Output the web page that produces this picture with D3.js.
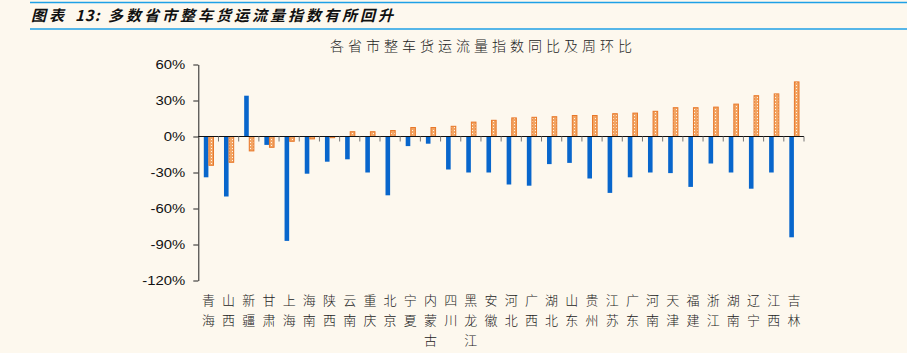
<!DOCTYPE html>
<html>
<head>
<meta charset="utf-8">
<script src="https://cdn.jsdelivr.net/npm/d3@7"></script>
<style>
  body { margin: 0; background: #fdf8ee; }
  svg { display: block; }
</style>
</head>
<body>
<svg width="907" height="353"></svg>
<script>
const provinces = ["青海","山西","新疆","甘肃","上海","海南","陕西","云南","重庆","北京",
  "宁夏","内蒙古","四川","黑龙江","安徽","河北","广西","湖北","山东","贵州",
  "江苏","广东","河南","天津","福建","浙江","湖南","辽宁","江西","吉林"];
// 同比 (blue)
const yoy = [-34, -50, 34, -7, -87, -31, -21, -19, -30, -49,
  -8, -6, -27.5, -30, -30, -40, -41, -23, -22, -35,
  -47, -34, -30, -30.5, -42, -22.5, -30, -43.5, -30, -84];
// 周环比 (orange)
const wow = [-24, -21.5, -12, -9, -4, -2, -1, 4, 4, 5,
  7.5, 7.5, 8.5, 12, 13.5, 15.5, 16, 16.5, 17.5, 17.5,
  19, 19.5, 21, 24, 24, 24.5, 27, 34, 35.5, 45.5];
const yTicks = [-120, -90, -60, -30, 0, 30, 60];

const svg = d3.select("svg");

// header
svg.append("line").attr("x1", 30).attr("x2", 907).attr("y1", 2.5).attr("y2", 2.5)
  .attr("stroke", "#1ea0e6").attr("stroke-width", 1.5);
svg.append("line").attr("x1", 30).attr("x2", 907).attr("y1", 29).attr("y2", 29)
  .attr("stroke", "#1ea0e6").attr("stroke-width", 1.5);
const head = svg.append("text").attr("y", 21)
  .attr("font-family", "Noto Sans CJK SC").attr("font-size", 15)
  .attr("font-weight", "bold").attr("font-style", "italic").attr("fill", "#111")
  .attr("letter-spacing", 3);
head.append("tspan").attr("x", 31).text("图表");
head.append("tspan").attr("x", 75).attr("letter-spacing", 1).text("13:");
head.append("tspan").attr("x", 108).text("多数省市整车货运流量指数有所回升");

// chart title
svg.append("text").attr("x", 483).attr("y", 51).attr("text-anchor", "middle")
  .attr("font-family", "Noto Sans CJK SC").attr("font-size", 14)
  .attr("font-weight", 300).attr("letter-spacing", 4).attr("fill", "#222")
  .text("各省市整车货运流量指数同比及周环比");

const x = d3.scaleBand().domain(provinces).range([198.3, 804]);
const y = d3.scaleLinear().domain([-120, 60]).range([280.5, 64.5]);

// pattern for orange bars
const defs = svg.append("defs");
const pat = defs.append("pattern").attr("id", "dots").attr("patternUnits", "userSpaceOnUse")
  .attr("width", 3).attr("height", 3);
pat.append("rect").attr("width", 3).attr("height", 3).attr("fill", "#f2a463");
pat.append("rect").attr("x", 1).attr("y", 1).attr("width", 1).attr("height", 1).attr("fill", "#fff4e6");

const bw = 4.6;
// blue bars
svg.append("g").selectAll("rect").data(yoy).join("rect")
  .attr("x", (d, i) => x(provinces[i]) + x.bandwidth() / 2 - bw)
  .attr("y", d => y(Math.max(0, d)))
  .attr("width", bw)
  .attr("height", d => Math.abs(y(d) - y(0)))
  .attr("fill", "#0866cc");

// orange bars
svg.append("g").selectAll("rect").data(wow).join("rect")
  .attr("x", (d, i) => x(provinces[i]) + x.bandwidth() / 2 + 0.5)
  .attr("y", d => y(Math.max(0, d)))
  .attr("width", bw)
  .attr("height", d => Math.abs(y(d) - y(0)))
  .attr("fill", "url(#dots)")
  .attr("stroke", "#e8782a").attr("stroke-width", 1);

// y axis
const yAxis = svg.append("g").attr("transform", "translate(198.3,0)")
  .call(d3.axisLeft(y).tickValues(yTicks).tickSize(5).tickSizeOuter(0)
    .tickFormat(d => d + "%"));
yAxis.select(".domain").attr("stroke", "#222");
yAxis.selectAll(".tick line").attr("stroke", "#222");
yAxis.selectAll(".tick text").attr("font-family", "Liberation Sans, Arial")
  .attr("font-size", 12).attr("fill", "#111").attr("x", 0)
  .attr("transform", "translate(-13,0) scale(1.24,1)");

// x axis along zero
const zeroY = y(0);
svg.append("line").attr("x1", 198.3).attr("x2", 804).attr("y1", zeroY).attr("y2", zeroY)
  .attr("stroke", "#111").attr("stroke-width", 1.2);
const bounds = provinces.map(p => x(p)).concat([x.range()[1]]);
svg.append("g").selectAll("line").data(bounds.slice(1)).join("line")
  .attr("x1", d => d).attr("x2", d => d)
  .attr("y1", zeroY).attr("y2", zeroY + 5)
  .attr("stroke", "#777");

// category labels, stacked vertically
const lab = svg.append("g").attr("font-family", "Noto Sans CJK SC")
  .attr("font-size", 13).attr("font-weight", 300).attr("fill", "#222")
  .attr("text-anchor", "middle");
provinces.forEach(p => {
  Array.from(p).forEach((c, j) => {
    lab.append("text").attr("x", x(p) + x.bandwidth() / 2)
      .attr("y", 305 + j * 20).text(c);
  });
});
</script>
</body>
</html>
